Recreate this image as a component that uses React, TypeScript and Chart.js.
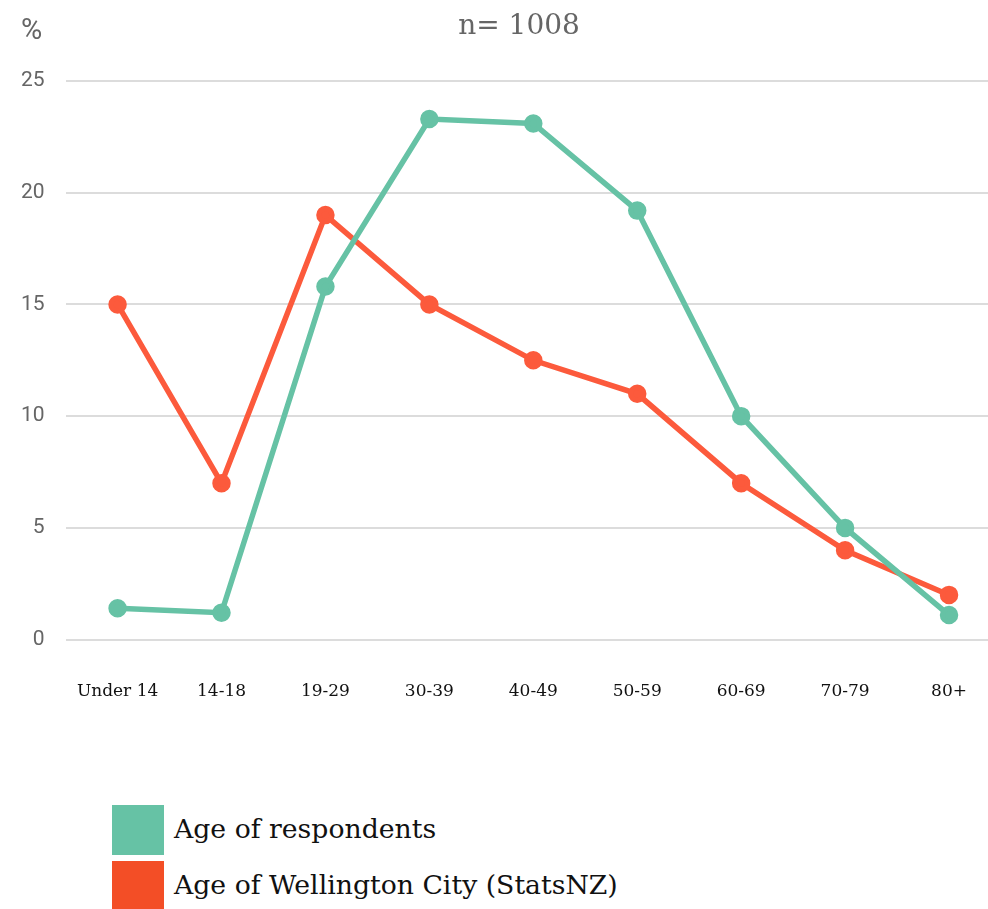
import React, { useEffect, useRef } from "react";
import { Chart, registerables } from "chart.js";

Chart.register(...registerables);

const categories = ["Under 14", "14-18", "19-29", "30-39", "40-49", "50-59", "60-69", "70-79", "80+"];
const respondents = [1.4, 1.2, 15.8, 23.3, 23.1, 19.2, 10.0, 5.0, 1.1];
const wellington = [15, 7, 19, 15, 12.5, 11, 7, 4, 2];
const seriesNames = ["Age of respondents", "Age of Wellington City (StatsNZ)"];
const seriesColors = ["#66c2a5", "#fc5a3c"];
const legendColors = ["#66c2a5", "#f34e26"];
const titleText = "n= 1008";
const yUnit = "%";

export default function App() {
  const canvasRef = useRef<HTMLCanvasElement | null>(null);

  useEffect(() => {
    if (!canvasRef.current) return;
    const chart = new Chart(canvasRef.current, {
      type: "line",
      data: {
        labels: categories,
        datasets: [
          {
            label: seriesNames[0],
            data: respondents,
            borderColor: seriesColors[0],
            backgroundColor: seriesColors[0],
            borderWidth: 5.5,
            pointRadius: 6.5,
            pointHoverRadius: 6.5,
            tension: 0,
          },
          {
            label: seriesNames[1],
            data: wellington,
            borderColor: seriesColors[1],
            backgroundColor: seriesColors[1],
            borderWidth: 5.5,
            pointRadius: 6.5,
            pointHoverRadius: 6.5,
            tension: 0,
          },
        ],
      },
      options: {
        responsive: false,
        animation: false,
        layout: { padding: { left: 0, right: 37, top: 81, bottom: 16 } },
        plugins: {
          legend: { display: false },
          tooltip: { enabled: false },
          title: { display: false },
        },
        scales: {
          x: {
            offset: true,
            grid: { display: false, drawTicks: false },
            border: { display: false },
            ticks: {
              color: "#111111",
              padding: 42,
              font: { family: "DejaVu Serif", size: 17 },
              maxRotation: 0,
              autoSkip: false,
            },
          },
          y: {
            min: 0,
            max: 25,
            grid: { color: "#dcdcdc", lineWidth: 2, drawTicks: false },
            border: { display: false },
            ticks: {
              stepSize: 5,
              color: "#666666",
              padding: 21,
              font: { family: "Roboto", size: 21 },
            },
          },
        },
      },
    });
    return () => chart.destroy();
  }, []);

  return (
    <div
      style={{
        position: "fixed",
        left: 0,
        top: 0,
        width: 988,
        height: 909,
        overflow: "hidden",
        background: "#ffffff",
      }}
    >
      <canvas
        ref={canvasRef}
        width={1038}
        height={760}
        style={{ position: "absolute", left: 0, top: 0, width: 1038, height: 760 }}
      />
      <div
        style={{
          position: "absolute",
          left: 419,
          width: 200,
          top: 8,
          textAlign: "center",
          fontFamily: "DejaVu Serif",
          fontSize: 28,
          color: "#666666",
          lineHeight: "34px",
        }}
      >
        {titleText}
      </div>
      <div
        style={{
          position: "absolute",
          left: 21,
          top: 12,
          fontFamily: "Roboto",
          fontSize: 29,
          color: "#666666",
          lineHeight: "34px",
        }}
      >
        {yUnit}
      </div>
      {seriesNames.map((name, i) => (
        <div
          key={name}
          style={{
            position: "absolute",
            left: 112,
            top: 805 + i * 56,
            height: 50,
            display: "flex",
            alignItems: "center",
          }}
        >
          <div style={{ width: 52, height: 50, background: legendColors[i] }} />
          <span
            style={{
              marginLeft: 10,
              fontFamily: "DejaVu Serif",
              fontSize: 26.7,
              color: "#111111",
              whiteSpace: "nowrap",
              position: "relative",
              top: -2,
            }}
          >
            {name}
          </span>
        </div>
      ))}
    </div>
  );
}
